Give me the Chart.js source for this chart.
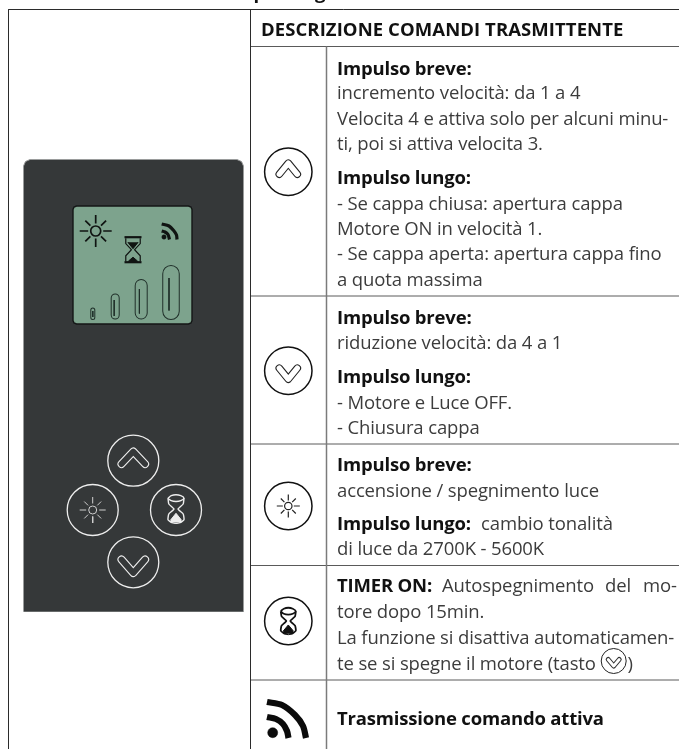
<!DOCTYPE html>
<html>
<head>
<meta charset="utf-8">
<title>Descrizione comandi trasmittente</title>
<script src="https://cdn.jsdelivr.net/npm/chart.js@4"></script>
<style>
html, body { margin: 0; padding: 0; background: #fff; }
#wrap { width: 679px; height: 749px; }
</style>
</head>
<body>
<div id="wrap"><canvas id="myChart" width="679" height="749"></canvas></div>
<script>
// testi della tabella
var headerText = 'DESCRIZIONE COMANDI TRASMITTENTE';
var clippedTitle = ['p', 'g'];
var boldText = ['Impulso breve:', 'Impulso lungo:', 'Impulso breve:', 'Impulso lungo:', 'Impulso breve:', 'Impulso lungo:', 'TIMER ON:', 'Trasmissione comando attiva'];
var boldY = [75, 184, 323.5, 382.5, 471, 530, 591.5, 725];
var bodyText = ['incremento velocità: da 1 a 4', 'Velocita 4 e attiva solo per alcuni minu-', 'ti, poi si attiva velocita 3.',
    '- Se cappa chiusa: apertura cappa', 'Motore ON in velocità 1.', '- Se cappa aperta: apertura cappa fino', 'a quota massima',
    'riduzione velocità: da 4 a 1', '- Motore e Luce OFF.', '- Chiusura cappa',
    'accensione / spegnimento luce', 'cambio tonalità', 'di luce da 2700K - 5600K',
    'Autospegnimento', 'del', 'mo-', 'tore dopo 15min.', 'La funzione si disattiva automaticamen-', 'te se si spegne il motore (tasto', ')'];
var bodyX = [337, 337, 337, 337, 337, 337, 337, 337, 337, 337, 337, 481, 337, 442, 605, 643, 337, 337, 337, 627.5];
var bodyY = [99, 124.5, 150, 209.5, 234.5, 260, 285.5, 349, 408.5, 434, 497, 530, 555, 591.5, 591.5, 591.5, 618, 643.5, 669.5, 669.5];

// righe della tabella [x0, y0, x1, y1]
var darkRules = [[8.5, 9.5, 679, 9.5], [8.5, 9.5, 8.5, 749], [250.5, 9.5, 250.5, 749]];
var greyRules = [[250, 46.5, 679, 46.5], [250, 296, 679, 296], [250, 444, 679, 444], [250, 565.5, 679, 565.5], [250, 680, 679, 680]];
var colRule = [[326.5, 46.5, 326.5, 749]];

// forme delle icone
var sunRays = [[1, 0], [0.707, 0.707], [0, 1], [-0.707, 0.707], [-1, 0], [-0.707, -0.707], [0, -1], [0.707, -0.707]];
var rssOuter = [[267, 702], [282, 705], [295, 715], [303, 726], [306, 738]];
var rssInner = [[267, 717], [276, 719], [283, 724], [287, 731], [288.5, 738]];
var lcdRssOuter = [[161.7, 224], [169, 226], [174, 231], [176.5, 235], [177, 239.5]];
var lcdRssInner = [[161.7, 231], [165, 232], [168, 234.5], [169.5, 239.5]];
var topEdge = [[23.5, 611.7], [23.5, 166], [25.5, 161.5], [30, 159.5], [237, 159.5], [241.5, 161.5], [243.5, 166], [243.5, 611.7]];
var lcdTop = [[73, 265], [73, 209.5], [74, 207], [76.5, 206], [188.5, 206], [191, 207], [192, 209.5], [192, 265]];
var lcdBottom = [[73, 265], [73, 320.5], [74, 323], [76.5, 324], [188.5, 324], [191, 323], [192, 320.5], [192, 265]];
// pillole velocita [x, top, bottom, width, x linea, top linea, bottom linea]
var speedPills = [[92.8, 307.5, 320, 5, 92.8, 311, 317], [115.2, 293.5, 319.5, 9, 114.2, 300, 316], [141.2, 279, 319.5, 13, 139.4, 289, 313.5], [171, 265, 320, 17.5, 169, 278, 310.5]];
// bottoni: centro x, centro y
var remoteButtons = [[133.3, 460.7], [92.7, 510], [176, 510], [133.3, 562.3]];
var tableButtons = [[288.3, 171.7], [288.3, 370.7], [288.3, 506], [288.3, 621]];

var lcdColor = '#7da38d';
var remoteColor = '#353839';
var lineColor = '#eeeeee';
var sets = [];

function xy(list) {
    return list.map(function(p) { return { x: p[0], y: p[1] }; });
}

function addLine(points, color, width, extra) {
    sets.push(Object.assign({
        type: 'scatter',
        data: xy(points),
        showLine: true,
        borderColor: color,
        backgroundColor: color,
        borderWidth: width,
        pointRadius: 0,
        pointHoverRadius: 0,
        tension: 0,
        fill: false,
        order: -sets.length
    }, extra || {}));
}

function addRing(points, radius, color, width, fillColor) {
    sets.push({
        type: 'scatter',
        data: xy(points),
        showLine: false,
        pointRadius: radius,
        pointHoverRadius: radius,
        pointBorderWidth: width,
        pointBorderColor: color,
        pointBackgroundColor: fillColor || 'transparent',
        order: -sets.length
    });
}

function addRules(rules, color, width) {
    rules.forEach(function(r) {
        addLine([[r[0], r[1]], [r[2], r[3]]], color, width);
    });
}

// chevron: tratto spesso e tratto interno del colore di fondo
function addChevron(cx, apexY, dx, dy, w, color, bg) {
    var pts = [[cx - dx, apexY + dy], [cx, apexY], [cx + dx, apexY + dy]];
    addLine(pts, color, w, { borderCapStyle: 'round', borderJoinStyle: 'round' });
    addLine(pts, bg, w - 2.2, { borderCapStyle: 'round', borderJoinStyle: 'round' });
}

function addSun(cx, cy, r, r0, r1, color, width) {
    var pts = [];
    sunRays.forEach(function(d, i) {
        var end = (i % 2) ? r1 * 0.92 : r1;
        pts.push([cx + d[0] * r0, cy + d[1] * r0], [cx + d[0] * end, cy + d[1] * end], [null, null]);
    });
    addLine(pts, color, width);
    addRing([[cx, cy]], r, color, width);
}

// clessidra del display: barre piene e sabbia
function addLcdGlass(cx, cy, w, h, color, width) {
    var hw = w / 2, hh = h / 2;
    addLine([[cx - hw * 0.85, cy - hh + 2], [cx - hw * 0.85, cy - hh * 0.45], [cx - 1.6, cy], [cx - hw * 0.85, cy + hh * 0.45], [cx - hw * 0.85, cy + hh - 2]], color, width);
    addLine([[cx + hw * 0.85, cy - hh + 2], [cx + hw * 0.85, cy - hh * 0.45], [cx + 1.6, cy], [cx + hw * 0.85, cy + hh * 0.45], [cx + hw * 0.85, cy + hh - 2]], color, width);
    addLine([[cx - hw, cy - hh + 1], [cx + hw, cy - hh + 1]], color, 2.2);
    addLine([[cx - hw, cy + hh - 1], [cx + hw, cy + hh - 1]], color, 2.2);
    addLine([[cx - hw * 0.55, cy + hh - 2], [cx, cy + hh - 6], [cx + hw * 0.55, cy + hh - 2]], color, 1, { fill: { target: { value: cy + hh - 1 } } });
    addLine([[cx - hw * 0.6, cy - hh * 0.55], [cx, cy - 1], [cx + hw * 0.6, cy - hh * 0.55]], color, 1, { fill: { target: { value: cy - hh * 0.55 } } });
}

// clessidra dei bottoni: ellissi sopra e sotto, vita stretta
function addGlass(cx, cy, w, h, color, width) {
    var hw = w / 2, hh = h / 2;
    var top = [[cx - hw, cy - hh + 3.5], [cx - hw * 0.6, cy - hh + 1], [cx, cy - hh], [cx + hw * 0.6, cy - hh + 1], [cx + hw, cy - hh + 3.5], [cx + hw * 0.6, cy - hh + 6], [cx, cy - hh + 6.8], [cx - hw * 0.6, cy - hh + 6], [cx - hw, cy - hh + 3.5]];
    addLine(top, color, width, { tension: 0.4 });
    var left = [[cx - hw, cy - hh + 3.5], [cx - hw * 0.9, cy - hh * 0.35], [cx - 2, cy], [cx - hw * 0.9, cy + hh * 0.35], [cx - hw, cy + hh - 3.5], [cx - hw * 0.5, cy + hh - 0.6], [cx, cy + hh]];
    var right = left.map(function(p) { return [2 * cx - p[0], p[1]]; });
    addLine(left, color, width, { tension: 0.15 });
    addLine(right, color, width, { tension: 0.15 });
    addLine([[cx - hw * 0.7, cy + hh - 3], [cx, cy + hh * 0.3], [cx + hw * 0.7, cy + hh - 3]], color, 1, { fill: { target: { value: cy + hh - 1 } } });
}

// frame della tabella
addRules(greyRules, '#5a5a5a', 1);
addRules(colRule, '#7b7b7b', 1.5);
addRules(darkRules, '#2b2b2b', 1);

// trasmittente
addLine(topEdge, '#9a9c9c', 1, { backgroundColor: remoteColor, fill: { target: { value: 611.7 } } });
addLine(lcdTop, '#141616', 1.4, { backgroundColor: lcdColor, fill: '+1' });
addLine(lcdBottom, '#141616', 1.4);

// display
addSun(95.7, 231, 5, 7.5, 16, '#101412', 1.7);
addLcdGlass(133, 249.7, 17, 27, '#101412', 1.2);
addLine(lcdRssOuter, '#101412', 3.2, { tension: 0.3 });
addLine(lcdRssInner, '#101412', 3.2, { tension: 0.3 });
addRing([[164, 237]], 2.2, '#101412', 0.5, '#101412');
speedPills.forEach(function(p) {
    var r = p[3] / 2;
    addLine([[p[0], p[1] + r], [p[0], p[2] - r]], '#20302a', p[3], { borderCapStyle: 'round' });
    addLine([[p[0], p[1] + r], [p[0], p[2] - r]], lcdColor, p[3] - 2, { borderCapStyle: 'round' });
    addLine([[p[4], p[5]], [p[4], p[6]]], '#20302a', 1);
});

// bottoni trasmittente
addRing(remoteButtons, 25.5, lineColor, 1.3);
addChevron(133.3, 451.5, 11.8, 12.6, 8, lineColor, remoteColor);
addChevron(133.3, 573, 11.8, -13.5, 8, lineColor, remoteColor);
addSun(92.7, 510, 4, 6.5, 13, '#cfcfcf', 1);
addGlass(176, 509, 16, 28.6, lineColor, 1.4);

// bottoni tabella
addRing(tableButtons, 23.7, '#111111', 1.5);
addChevron(288.3, 163.2, 9, 11, 7.6, '#222222', '#ffffff');
addChevron(288.3, 379.2, 9, -11, 7.6, '#222222', '#ffffff');
addSun(288.3, 506, 3.7, 5.5, 11.5, '#222222', 1.2);
addGlass(288.3, 621, 15, 26.5, '#111111', 1.8);
addRing([[613.7, 661]], 12.5, '#222222', 1);
addChevron(613.7, 666, 5.5, -6.5, 5, '#333333', '#ffffff');

// segnale
addLine(rssOuter, '#0b0b0b', 6.2, { tension: 0.3 });
addLine(rssInner, '#0b0b0b', 6.2, { tension: 0.3 });
addRing([[272.7, 732.7]], 5, '#0b0b0b', 0.5, '#0b0b0b');

var textPlugin = {
    id: 'tableText',
    afterDraw: function(chart) {
        var c = chart.ctx;
        var sx = chart.scales.x, sy = chart.scales.y;
        c.save();
        c.textBaseline = 'alphabetic';
        c.textAlign = 'left';
        c.fillStyle = '#111111';
        c.font = 'bold 18.5px "Open Sans"';
        c.letterSpacing = '0.08px';
        c.fillText(headerText, sx.getPixelForValue(261), sy.getPixelForValue(36));
        c.fillText(clippedTitle[0], sx.getPixelForValue(253.5), sy.getPixelForValue(-1));
        c.fillText(clippedTitle[1], sx.getPixelForValue(315), sy.getPixelForValue(-1));
        c.letterSpacing = '-0.18px';
        boldText.forEach(function(t, i) {
            c.fillText(t, sx.getPixelForValue(337), sy.getPixelForValue(boldY[i]));
        });
        c.fillStyle = '#3c3c3c';
        c.font = '18.5px "Open Sans"';
        c.letterSpacing = '-0.13px';
        bodyText.forEach(function(t, i) {
            c.fillText(t, sx.getPixelForValue(bodyX[i]), sy.getPixelForValue(bodyY[i]));
        });
        c.restore();
    }
};

var ctx = document.getElementById('myChart');
var myChart = new Chart(ctx, {
    type: 'scatter',
    data: { datasets: sets },
    options: {
        responsive: false,
        animation: false,
        events: [],
        layout: { padding: 0, autoPadding: false },
        spanGaps: false,
        plugins: { legend: { display: false }, tooltip: { enabled: false } },
        scales: {
            x: { type: 'linear', min: 0, max: 679, display: false },
            y: { type: 'linear', min: 0, max: 749, reverse: true, display: false }
        }
    },
    plugins: [textPlugin]
});
</script>
</body>
</html>
